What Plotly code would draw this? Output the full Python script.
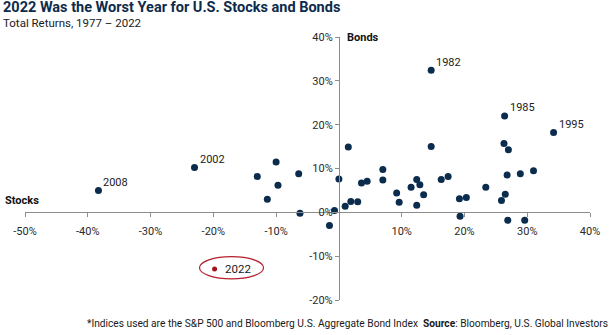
import plotly.graph_objects as go

# ---- data ----
stocks = [-13.0, -10.0, -6.4, -9.7, -11.4, -6.2, -1.5, -0.7, 0.0, 1.5, 1.0, 1.9, 3.0, 3.6, 4.5,
          7.0, 7.0, 9.2, 9.6, 11.5, 12.4, 12.9, 12.4, 13.5, 14.7, 16.3, 17.4, 19.2, 20.3, 19.3,
          23.4, 25.9, 26.5, 26.3, 27.0, 26.8, 26.9, 28.9, 29.6, 31.0]
bonds = [8.2, 11.5, 8.8, 6.2, 3.0, -0.2, -3.0, 0.4, 7.6, 14.9, 1.4, 2.5, 2.4, 6.7, 7.1,
         9.8, 7.4, 4.4, 2.3, 5.7, 7.5, 6.3, 1.6, 4.0, 15.0, 7.5, 8.2, 3.1, 3.4, -0.9,
         5.7, 2.7, 4.1, 15.7, 14.3, 8.5, -1.8, 8.8, -1.8, 9.5]

label_years = ["2008", "2002", "1982", "1985", "1995"]
label_stocks = [-38.3, -23.0, 14.7, 26.4, 34.2]
label_bonds = [5.0, 10.2, 32.4, 22.0, 18.2]

year_2022 = "2022"
stocks_2022 = -19.8
bonds_2022 = -12.9
ellipse_x = [-22.2, -12.0]
ellipse_y = [-15.2, -10.1]

x_ticks = [-50, -40, -30, -20, -10, 10, 20, 30, 40]
x_ticktext = ["-50%", "-40%", "-30%", "-20%", "-10%", "10%", "20%", "30%", "40%"]
y_ticks = [-20, -10, 0, 10, 20, 30, 40]
y_ticktext = ["-20%", "-10%", "0%", "10%", "20%", "30%", "40%"]
x_range = [-50, 40]
y_range = [-20, 40]

NAVY = "#0b2c4d"
RED = "#a3151c"
AXIS = "#8c8c8c"
TXT = "#2a2a2a"
FONT = "Roboto"

fig = go.Figure()
fig.add_trace(go.Scatter(x=stocks, y=bonds, mode="markers",
                         marker=dict(color=NAVY, size=7, line=dict(width=0)),
                         hoverinfo="skip", showlegend=False))
fig.add_trace(go.Scatter(x=label_stocks, y=label_bonds, mode="markers",
                         marker=dict(color=NAVY, size=7, line=dict(width=0)),
                         hoverinfo="skip", showlegend=False))
fig.add_trace(go.Scatter(x=[stocks_2022], y=[bonds_2022], mode="markers",
                         marker=dict(color=RED, size=5, line=dict(width=0)),
                         hoverinfo="skip", showlegend=False))

annotations = []
for yr, sx, by in zip(label_years, label_stocks, label_bonds):
    annotations.append(dict(x=sx, y=by, xref="x", yref="y", text=yr, showarrow=False,
                            xanchor="left", yanchor="middle", xshift=3, yshift=8,
                            font=dict(family=FONT, size=11, color="#222222")))
annotations.append(dict(x=stocks_2022, y=bonds_2022, xref="x", yref="y", text=year_2022,
                        showarrow=False, xanchor="left", yanchor="middle", xshift=8,
                        font=dict(family=FONT, size=11.5, color="#1a1a1a")))

# titles
annotations.append(dict(x=0, y=1, xref="paper", yref="paper", xanchor="left", yanchor="middle",
                        xshift=-24, yshift=30, showarrow=False,
                        text="<b>2022 Was the Worst Year for U.S. Stocks and Bonds</b>",
                        font=dict(family=FONT, size=14.5, color="#0d2b4b")))
annotations.append(dict(x=0, y=1, xref="paper", yref="paper", xanchor="left", yanchor="middle",
                        xshift=-24, yshift=14, showarrow=False,
                        text="Total Returns, 1977 – 2022",
                        font=dict(family=FONT, size=11.5, color="#1a1a1a")))
# axis names
annotations.append(dict(x=0, y=0, xref="paper", yref="y", xanchor="left", yanchor="middle",
                        xshift=-22, yshift=12, showarrow=False, text="<b>Stocks</b>",
                        font=dict(family=FONT, size=11, color="#111111")))
annotations.append(dict(x=0, y=40, xref="x", yref="y", xanchor="left", yanchor="middle",
                        xshift=6, yshift=0, showarrow=False, text="<b>Bonds</b>",
                        font=dict(family=FONT, size=11, color="#111111")))
# footer
annotations.append(dict(x=1, y=0, xref="paper", yref="paper", xanchor="right", yanchor="middle",
                        xshift=20, yshift=-23, showarrow=False,
                        text="*Indices used are the S&P 500 and Bloomberg U.S. Aggregate Bond Index  "
                             "<b>Source</b>: Bloomberg, U.S. Global Investors",
                        font=dict(family=FONT, size=10.2, color="#1a1a1a")))

fig.add_shape(type="circle", xref="x", yref="y",
              x0=ellipse_x[0], x1=ellipse_x[1], y0=ellipse_y[0], y1=ellipse_y[1],
              line=dict(color="#b5202a", width=1.2))

fig.update_layout(
    width=614, height=335,
    margin=dict(l=25, r=24, t=37, b=35, autoexpand=False),
    paper_bgcolor="white", plot_bgcolor="white",
    annotations=annotations,
    xaxis=dict(range=x_range, tickvals=x_ticks, ticktext=x_ticktext,
               showgrid=False, zeroline=False, showline=True, linecolor=AXIS, linewidth=1,
               ticks="outside", ticklen=4, tickcolor=AXIS, tickwidth=1,
               anchor="free", position=(0 - y_range[0]) / (y_range[1] - y_range[0]),
               ticklabelstandoff=4, automargin=False,
               tickfont=dict(family=FONT, size=11, color=TXT)),
    yaxis=dict(range=y_range, tickvals=y_ticks, ticktext=y_ticktext,
               showgrid=False, zeroline=False, showline=True, linecolor=AXIS, linewidth=1,
               ticks="outside", ticklen=4, tickcolor=AXIS, tickwidth=1,
               anchor="free", position=(0 - x_range[0]) / (x_range[1] - x_range[0]),
               automargin=False,
               tickfont=dict(family=FONT, size=11, color=TXT)),
)

fig.write_html("out.html")
